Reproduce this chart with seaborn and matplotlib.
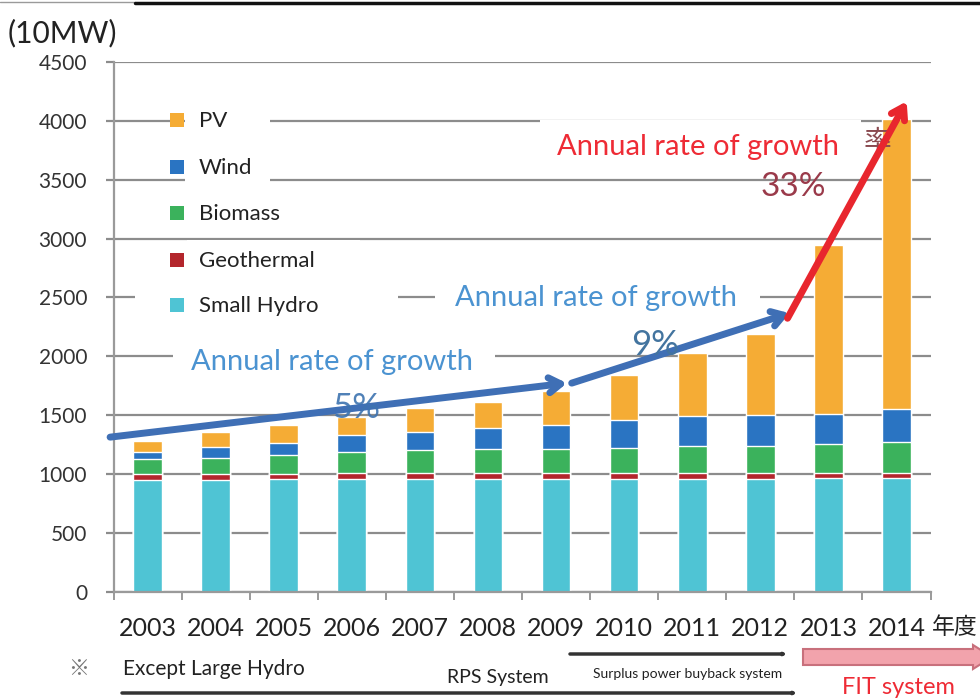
import numpy as np
import pandas as pd
import matplotlib
matplotlib.use("Agg")
import matplotlib.pyplot as plt
import seaborn as sns
from matplotlib.patches import Rectangle, Polygon

# Installed renewable capacity by source (unit: 10 MW), FY2003-FY2014
years = ["2003", "2004", "2005", "2006", "2007", "2008",
         "2009", "2010", "2011", "2012", "2013", "2014"]
small_hydro = [952, 953, 954, 955, 956, 957, 957, 958, 959, 960, 962, 963]
geothermal = [50, 50, 50, 50, 50, 50, 50, 50, 50, 50, 49, 49]
biomass = [122, 135, 156, 183, 197, 202, 202, 214, 228, 227, 240, 261]
wind = [62, 88, 100, 140, 155, 178, 206, 233, 254, 262, 260, 275]
pv = [96, 132, 155, 158, 204, 226, 289, 390, 538, 691, 1438, 2467]

y_ticks = [0, 500, 1000, 1500, 2000, 2500, 3000, 3500, 4000, 4500]

# growth-rate arrows (x in category index, y in 10 MW)
arrow_5 = [(-0.55, 1313), (6.16, 1772)]
arrow_9 = [(6.23, 1772), (9.43, 2366)]
arrow_33 = [(9.40, 2323), (11.15, 4166)]

series = ["Small Hydro", "Geothermal", "Biomass", "Wind", "PV"]
colors = {
    "PV": "#F5AC35",
    "Wind": "#2A74C2",
    "Biomass": "#3BB25C",
    "Geothermal": "#B3262C",
    "Small Hydro": "#4FC4D4",
}

sns.set_theme(style="white")
plt.rcParams["font.family"] = ["Lato", "DejaVu Sans"]
CJK = ["Noto Sans CJK JP", "DejaVu Sans"]

W, H = 980, 698
fig = plt.figure(figsize=(W / 100, H / 100), dpi=100)


def fx(x):
    return x / W


def fy(y):
    return 1 - y / H


ax = fig.add_axes([fx(113.5), fy(591.7), fx(930.5) - fx(113.5), fy(62) - fy(591.7)])

df = pd.DataFrame({"year": years, "Small Hydro": small_hydro, "Geothermal": geothermal,
                   "Biomass": biomass, "Wind": wind, "PV": pv})
cum = df[series].cumsum(axis=1)

# stacked bars: draw the running totals from the top layer downwards
for name in reversed(series):
    sns.barplot(x=df["year"], y=cum[name], color=colors[name], width=0.42,
                saturation=1, errorbar=None, ax=ax, zorder=2)

ax.set_xlim(-0.5, 11.5)
ax.set_ylim(0, 4500)
ax.set_yticks(y_ticks)
ax.set_xlabel("")
ax.set_ylabel("")
ax.set_axisbelow(True)
ax.yaxis.grid(True, color="#8c8c8c", lw=1.6)
ax.xaxis.grid(False)
for s in ["top", "right"]:
    ax.spines[s].set_visible(False)
for s in ["left", "bottom"]:
    ax.spines[s].set_color("#9a9a9a")
    ax.spines[s].set_linewidth(1.6)

ax.tick_params(axis="y", which="major", length=6, width=1.6, color="#8c8c8c",
               pad=13, labelsize=15, labelcolor="#333333", left=True)
ax.set_xticks(np.arange(-0.5, 12, 1), minor=True)
ax.tick_params(axis="x", which="minor", length=6, width=1.4, color="#9a9a9a",
               bottom=True, direction="out")
ax.tick_params(axis="x", which="major", length=0, pad=18, labelsize=18,
               labelcolor="#222222")

# fiscal-year suffix after the last tick label
ax.text(fx(932), fy(627), "年度", transform=fig.transFigure, fontsize=16.5,
        family=CJK, color="#222222", va="center", ha="left", clip_on=False)


def box(x0, y0, x1, y1, z=3):
    ax.add_patch(Rectangle((fx(x0), fy(y1)), fx(x1) - fx(x0), fy(y0) - fy(y1),
                           transform=fig.transFigure, facecolor="white",
                           edgecolor="none", zorder=z, clip_on=False))


def label(x, y, s, z=6, **kw):
    kw.setdefault("va", "center")
    ax.text(fx(x), fy(y), s, transform=fig.transFigure, zorder=z, clip_on=False, **kw)


# legend: colored squares with white label panels
legend_rows = [("PV", 120, 185, 270, 103, 139),
               ("Wind", 167, 185, 270, 143, 186),
               ("Biomass", 213, 187, 330, 186, 237),
               ("Geothermal", 260, 187, 360, 240, 277),
               ("Small Hydro", 305, 135, 398, 278, 323)]
for name, yc, bx0, bx1, by0, by1 in legend_rows:
    box(bx0, by0, bx1, by1)
    ax.add_patch(Rectangle((fx(170), fy(yc + 7)), fx(14), 14 / H,
                           transform=fig.transFigure, facecolor=colors[name],
                           edgecolor="none", zorder=4, clip_on=False))
    label(199, yc + 1, name, fontsize=16, color="#222222")

# growth annotations
box(173, 341, 495, 387)
label(332, 362, "Annual rate of growth", fontsize=21, color="#4B93D1", ha="center")
box(435, 268, 760, 325)
label(596, 298, "Annual rate of growth", fontsize=21, color="#4B93D1", ha="center")
label(877, 142, "率", z=2.5, fontsize=20, family=CJK, color="#8a4a50", ha="center")
box(540, 120, 861, 172)
label(698, 147, "Annual rate of growth", fontsize=21, color="#EE2B35", ha="center")

label(356, 408, "5%", fontsize=25, color="#3D73B0", ha="center", alpha=0.9)
label(655, 345, "9%", fontsize=25, color="#43749F", ha="center")
label(793, 187, "33%", fontsize=24, color="#9A3A4A", ha="center")

for (p0, p1), col in [(arrow_5, "#3F6FB5"), (arrow_9, "#3F6FB5"), (arrow_33, "#E8262E")]:
    ax.annotate("", xy=p1, xytext=p0, xycoords="data", annotation_clip=False,
                arrowprops=dict(arrowstyle="->,head_length=0.7,head_width=0.45",
                                lw=5, color=col, shrinkA=0, shrinkB=0),
                zorder=5)

# unit label and header rule
fig.text(fx(8), fy(33), "(10MW)", fontsize=21.5, color="#222222", va="center", ha="left")
fig.add_artist(plt.Line2D([0, fx(135)], [fy(2), fy(2)], color="#9a9a9a", lw=1,
                          transform=fig.transFigure))
fig.add_artist(plt.Line2D([fx(135), 1], [fy(2.5), fy(2.5)], color="#111111", lw=2.5,
                          transform=fig.transFigure))

# policy timeline below the axis
fig.text(fx(68), fy(669), "※", fontsize=15, family=CJK, color="#777777", va="center")
fig.text(fx(123), fy(669), "Except Large Hydro", fontsize=15, color="#222222", va="center")
fig.text(fx(447), fy(678), "RPS System", fontsize=14, color="#222222", va="center")
fig.text(fx(593), fy(674), "Surplus power buyback system", fontsize=10,
         color="#222222", va="center")
fig.text(fx(842), fy(687), "FIT system", fontsize=17, color="#EE2B35", va="center")

for x0, x1, yy in [(570, 787, 654), (122, 797, 693)]:
    fig.add_artist(matplotlib.patches.FancyArrowPatch(
        (fx(x0), fy(yy)), (fx(x1), fy(yy)), transform=fig.transFigure,
        arrowstyle="->,head_length=0.9,head_width=0.45", lw=2.5, color="#333333",
        shrinkA=0, shrinkB=0))

pink = [(803, 649), (973, 649), (973, 645), (992, 657), (973, 669), (973, 665), (803, 665)]
fig.add_artist(Polygon([(fx(x), fy(y)) for x, y in pink], closed=True,
                       transform=fig.transFigure, facecolor="#F2A3AC",
                       edgecolor="#C8707C", lw=1.5))

fig.savefig("out.png", dpi=100)
